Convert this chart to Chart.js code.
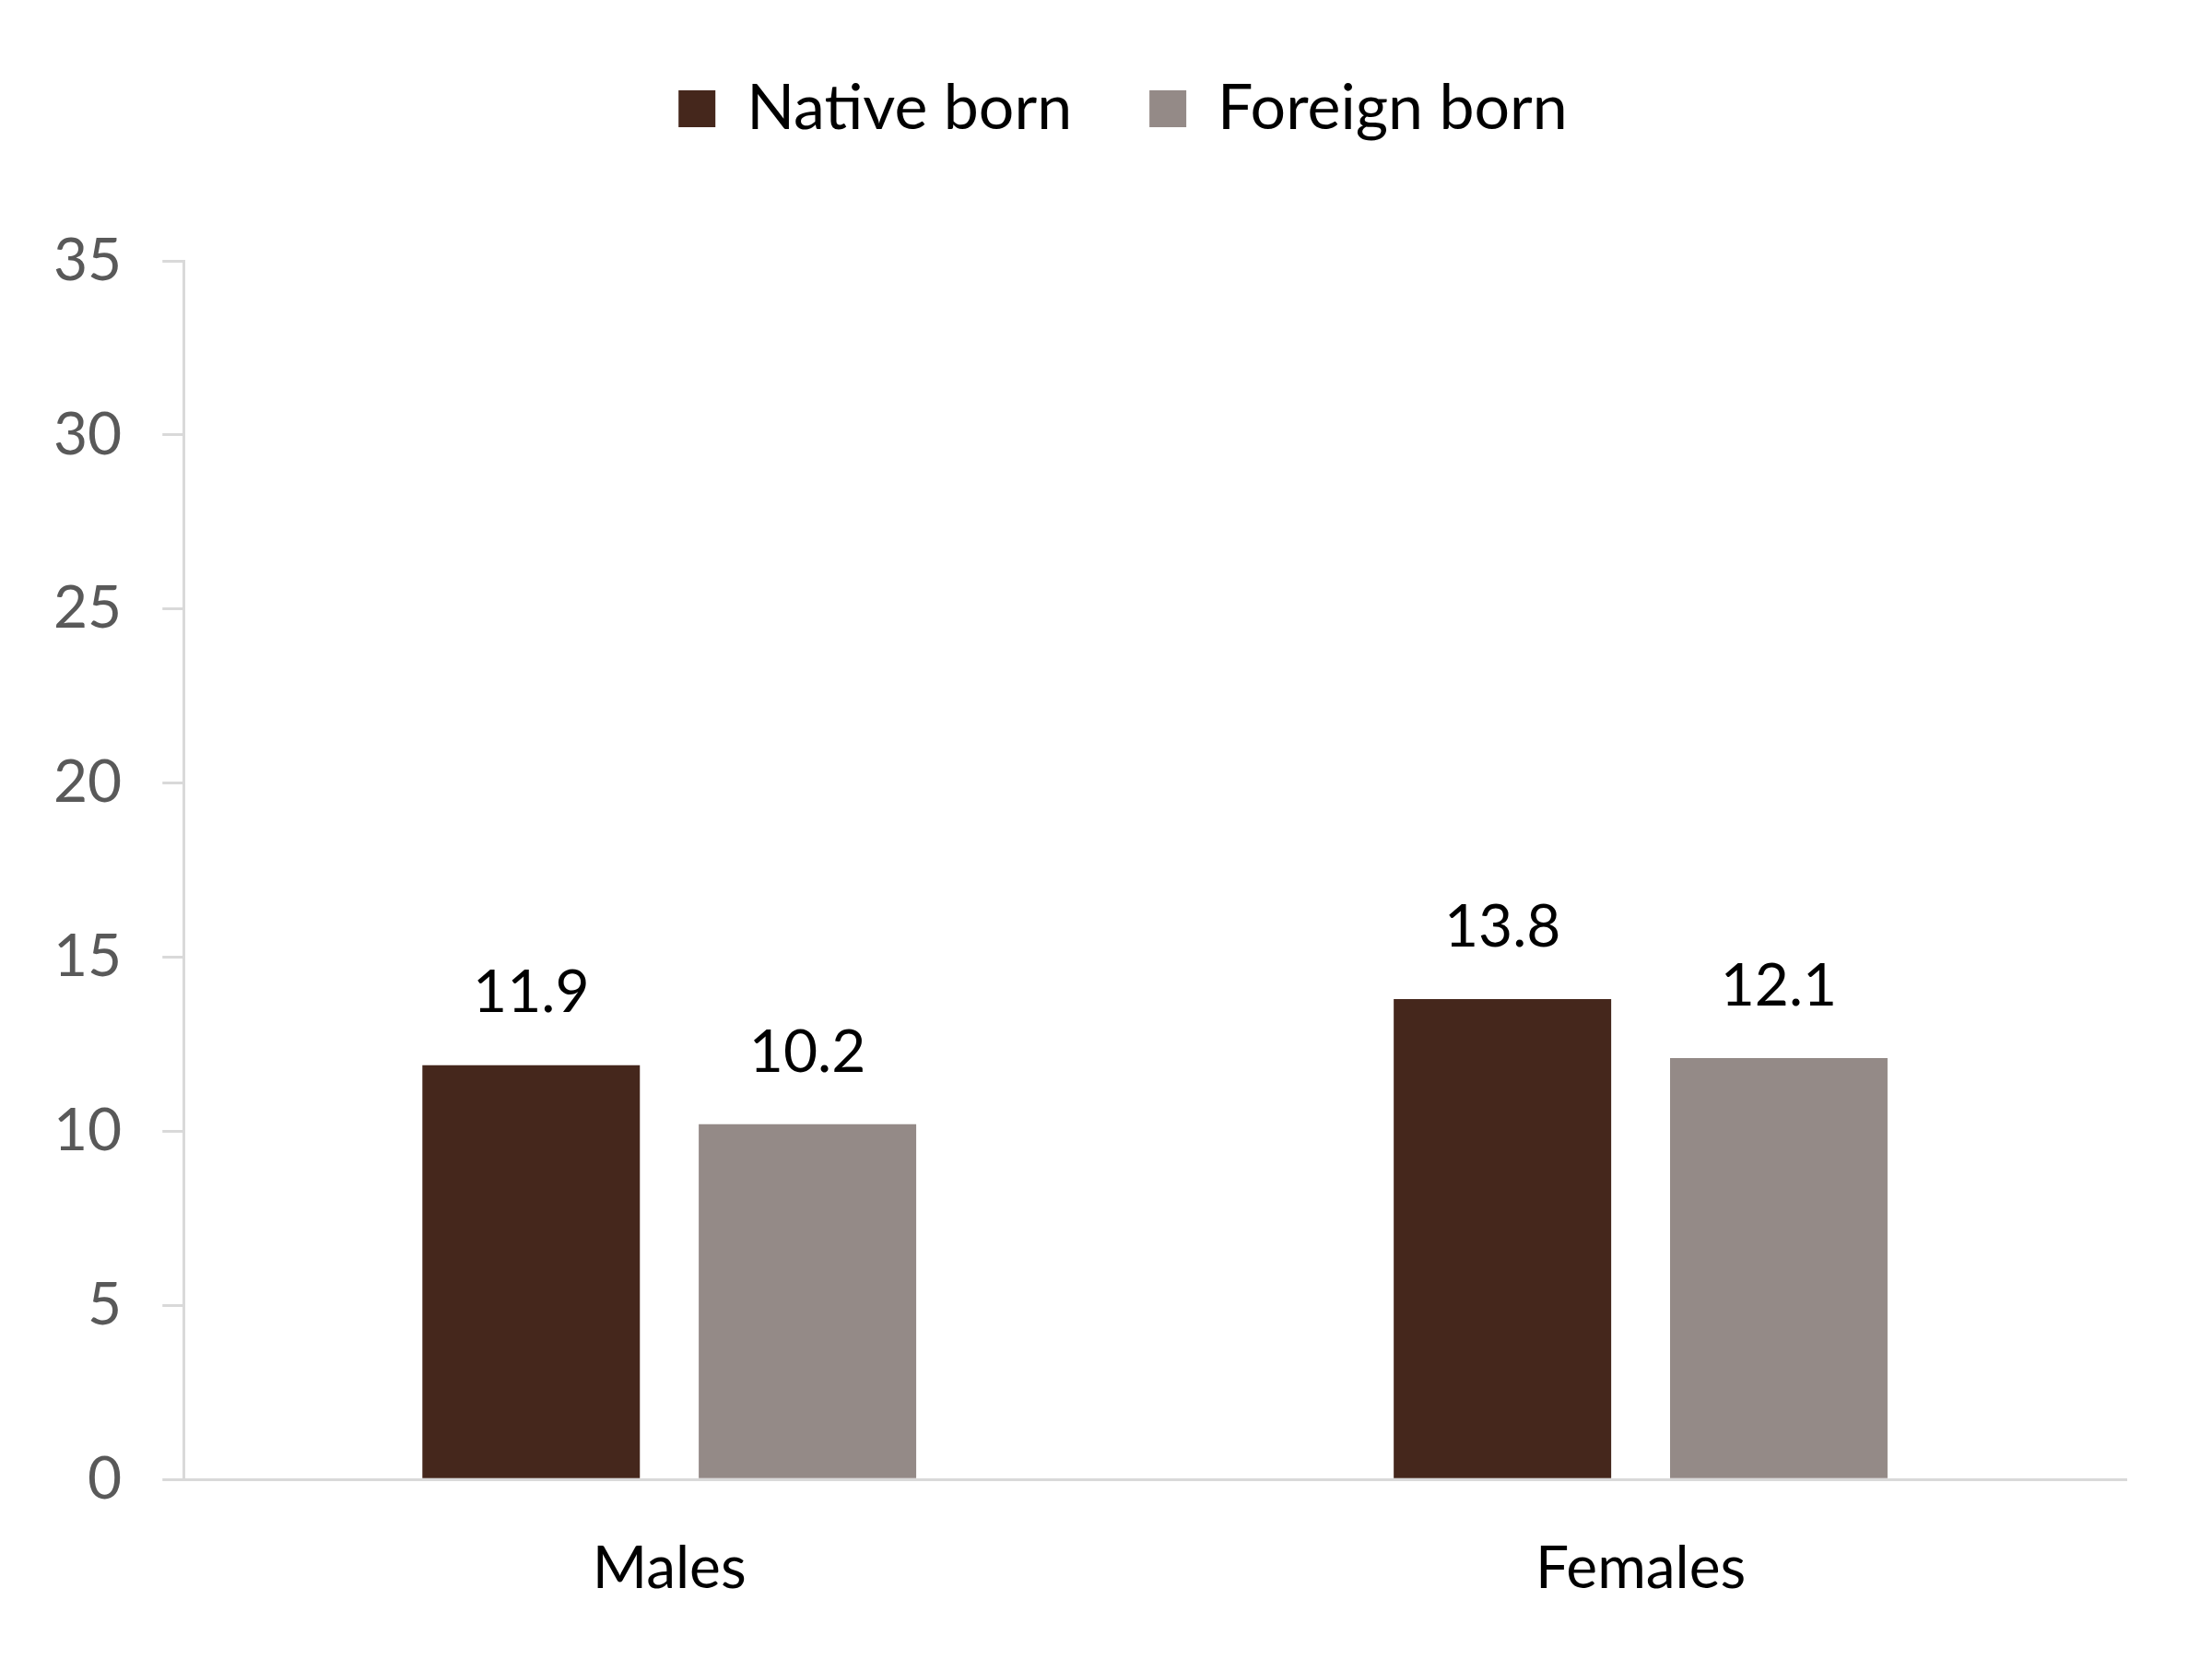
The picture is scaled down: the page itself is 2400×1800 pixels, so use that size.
<!DOCTYPE html>
<html>
<head>
<meta charset="utf-8">
<script src="https://cdn.jsdelivr.net/npm/chart.js@4.4.1/dist/chart.umd.min.js"></script>
<style>
  html, body { margin: 0; padding: 0; background: #ffffff; }
  #wrap { width: 2400px; height: 1800px; }
</style>
</head>
<body>
<div id="wrap"><canvas id="chart" width="2400" height="1800"></canvas></div>
<script>
// chart data
const categories = ["Males", "Females"];
const nativeBorn = [11.9, 13.8];
const foreignBorn = [10.2, 12.1];
const seriesNames = ["Native born", "Foreign born"];
const yTicks = [0, 5, 10, 15, 20, 25, 30, 35];

const axisGray = "#d9d9d9";

// draws the value above each bar
const valueLabels = {
    id: "valueLabels",
    afterDatasetsDraw(chart) {
        const ctx = chart.ctx;
        ctx.save();
        ctx.font = "64px Lato";
        ctx.fillStyle = "#000000";
        ctx.textAlign = "center";
        ctx.textBaseline = "middle";
        chart.data.datasets.forEach((ds, i) => {
            chart.getDatasetMeta(i).data.forEach((bar, j) => {
                ctx.fillText(ds.data[j].toFixed(1), bar.x, bar.y - 78);
            });
        });
        ctx.restore();
    }
};

// extra room under the legend, and nudge it a bit right
const legendGap = {
    id: "legendGap",
    beforeInit(chart) {
        const fit = chart.legend.fit;
        chart.legend.fit = function () {
            fit.bind(chart.legend)();
            this.height += 121;
        };
    },
    afterLayout(chart) {
        chart.legend.left += 58;
        chart.legend.right += 58;
    }
};

const ctx = document.getElementById("chart").getContext("2d");
new Chart(ctx, {
    type: "bar",
    data: {
        labels: categories,
        datasets: [
            {
                label: seriesNames[0],
                data: nativeBorn,
                backgroundColor: "#45271c",
                categoryPercentage: 0.569,
                barPercentage: 0.787
            },
            {
                label: seriesNames[1],
                data: foreignBorn,
                backgroundColor: "#948a87",
                categoryPercentage: 0.569,
                barPercentage: 0.787
            }
        ]
    },
    options: {
        responsive: false,
        animation: false,
        layout: { padding: { top: 0, left: 14, right: 93, bottom: 0 } },
        plugins: {
            legend: {
                display: true,
                position: "top",
                labels: {
                    color: "#000000",
                    font: { family: "Lato", size: 68 },
                    boxWidth: 40,
                    boxHeight: 40,
                    padding: 84
                }
            },
            tooltip: { enabled: false }
        },
        scales: {
            x: {
                grid: { display: false, drawTicks: false },
                border: { color: axisGray, width: 3 },
                ticks: {
                    color: "#000000",
                    font: { family: "Lato", size: 64 },
                    padding: 59
                }
            },
            y: {
                min: 0,
                max: 35,
                afterBuildTicks: (axis) => { axis.ticks = yTicks.map((v) => ({ value: v })); },
                grid: {
                    display: true,
                    drawOnChartArea: false,
                    drawTicks: true,
                    tickLength: 23,
                    color: axisGray,
                    lineWidth: 3
                },
                border: { color: axisGray, width: 3 },
                ticks: {
                    color: "#595959",
                    font: { family: "Lato", size: 64 },
                    padding: 44
                }
            }
        }
    },
    plugins: [valueLabels, legendGap]
});
</script>
</body>
</html>
